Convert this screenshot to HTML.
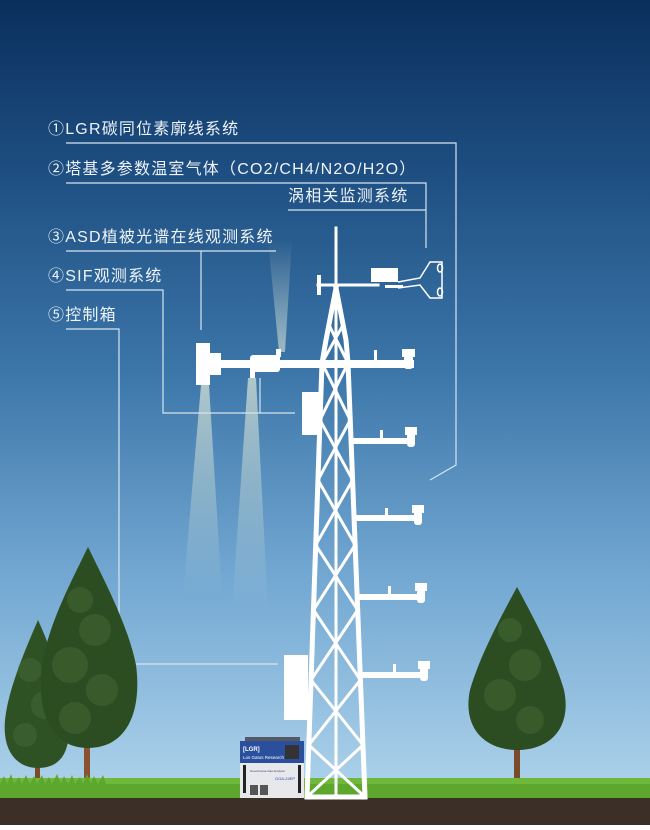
<!DOCTYPE html>
<html><head><meta charset="utf-8"><style>
html,body{margin:0;padding:0;}
body{width:650px;height:825px;overflow:hidden;font-family:"Liberation Sans","Noto Sans CJK SC",sans-serif;}
</style></head><body>
<svg width="650" height="825" viewBox="0 0 650 825" xmlns="http://www.w3.org/2000/svg">
<defs>
<linearGradient id="sky" x1="0" y1="0" x2="0" y2="1">
<stop offset="0" stop-color="#0a2f5c"/>
<stop offset="0.2" stop-color="#1d4d80"/>
<stop offset="0.45" stop-color="#3c76a9"/>
<stop offset="0.7" stop-color="#73a8d2"/>
<stop offset="1" stop-color="#b6d9ee"/>
</linearGradient>
<linearGradient id="beam" x1="0" y1="0" x2="0" y2="1">
<stop offset="0" stop-color="#dfe9d8" stop-opacity="0.7"/>
<stop offset="1" stop-color="#dfe9d8" stop-opacity="0"/>
</linearGradient>
<linearGradient id="beamU" x1="0" y1="1" x2="0" y2="0">
<stop offset="0" stop-color="#dfe9d8" stop-opacity="0.6"/>
<stop offset="1" stop-color="#dfe9d8" stop-opacity="0"/>
</linearGradient>
</defs>
<rect width="650" height="825" fill="url(#sky)"/>

<polygon points="201,385 209,385 222,595 183,595" fill="url(#beam)"/>
<polygon points="248,378 256,378 268,610 232,610" fill="url(#beam)"/>
<polygon points="279,352 285,352 292,240 268,240" fill="url(#beamU)"/>

<g stroke="#d6e4ef" stroke-width="1.2" fill="none">
<polyline points="66,143 456,143 456,465 430,480"/>
<polyline points="66,183 426,183 426,248"/>
<line x1="288" y1="210" x2="426" y2="210"/>
<polyline points="66,251 276,251"/>
<line x1="201" y1="251" x2="201" y2="330"/>
<polyline points="66,290 163,290 163,413 295,413"/>
<line x1="260" y1="378" x2="260" y2="413"/>
<polyline points="66,329 119,329 119,664 278,664"/>
</g>

<g fill="#eef3f8" font-size="16" letter-spacing="1.2">
<text x="48" y="134">①LGR碳同位素廓线系统</text>
<text x="48" y="174">②塔基多参数温室气体（CO2/CH4/N2O/H2O）</text>
<text x="288" y="201">涡相关监测系统</text>
<text x="48" y="242">③ASD植被光谱在线观测系统</text>
<text x="48" y="281">④SIF观测系统</text>
<text x="48" y="320">⑤控制箱</text>
</g>

<g>
<rect x="35" y="720" width="5" height="60" fill="#7a4a2a"/>
<path d="M38,620 C25,650 8,690 5,720 C2,755 20,768 38,768 C58,768 72,755 68,720 C64,690 52,650 38,620Z" fill="#2f5224"/>
<g fill="#44683a" opacity="0.5">
<circle cx="30" cy="670" r="12"/><circle cx="45" cy="705" r="14"/><circle cx="25" cy="735" r="12"/>
</g>
<rect x="84" y="730" width="6" height="68" fill="#8a5230"/>
<path d="M88,547 C72,580 48,625 42,665 C36,710 50,748 88,748 C128,748 142,710 136,665 C128,625 104,580 88,547Z" fill="#2c4d22"/>
<g fill="#4a6e38" opacity="0.45">
<circle cx="80" cy="600" r="13"/><circle cx="95" cy="630" r="16"/><circle cx="70" cy="665" r="18"/><circle cx="102" cy="690" r="16"/><circle cx="75" cy="718" r="16"/>
</g>
<rect x="514" y="735" width="6" height="50" fill="#7a4a2a"/>
<path d="M517,587 C502,615 480,655 470,690 C462,728 485,750 517,750 C550,750 572,728 564,690 C554,655 532,615 517,587Z" fill="#2c4d22"/>
<g fill="#4a6e38" opacity="0.45">
<circle cx="510" cy="630" r="12"/><circle cx="525" cy="665" r="16"/><circle cx="500" cy="695" r="16"/><circle cx="530" cy="720" r="14"/>
</g>
</g>

<rect x="0" y="778" width="650" height="22" fill="#6fb83a"/>
<path d="M0,784 l4,-8 l3,8 l4,-10 l3,10 l5,-7 l3,7 l4,-9 l4,9 l4,-8 l3,8 l5,-9 l3,9 l4,-7 l3,7 l5,-10 l4,10 l3,-8 l4,8 l4,-9 l3,9 l5,-7 l3,7 l4,-10 l4,10 l3,-8 l4,8 l5,-9 l3,9 L650,784 L650,800 L0,800Z" fill="#5ea72f"/>
<rect x="0" y="798" width="650" height="27" fill="#3b2f27"/>

<g stroke="#ffffff" fill="none" stroke-linecap="square" stroke-linejoin="round">
<line x1="336" y1="228" x2="336" y2="797" stroke-width="3"/>
<polyline points="336,288 326,340 322,363 307,797" stroke-width="5"/>
<polyline points="336,288 346,340 348,363 365,797" stroke-width="5"/>
<line x1="307" y1="797" x2="365" y2="797" stroke-width="5"/>
<g stroke-width="3">
<line x1="322" y1="363" x2="350.2" y2="420"/><line x1="348" y1="363" x2="320" y2="420"/>
<line x1="320" y1="420" x2="352.6" y2="480"/><line x1="350.2" y1="420" x2="318" y2="480"/>
<line x1="318" y1="480" x2="355.1" y2="545"/><line x1="352.6" y1="480" x2="315.7" y2="545"/>
<line x1="315.7" y1="545" x2="357.7" y2="610"/><line x1="355.1" y1="545" x2="313.5" y2="610"/>
<line x1="313.5" y1="610" x2="360.4" y2="680"/><line x1="357.7" y1="610" x2="311" y2="680"/>
<line x1="311" y1="680" x2="363" y2="745"/><line x1="360.4" y1="680" x2="308.8" y2="745"/>
<line x1="308.8" y1="745" x2="365" y2="797"/><line x1="363" y1="745" x2="307" y2="797"/>
<line x1="329" y1="325" x2="348" y2="363"/><line x1="343" y1="325" x2="322" y2="363"/>
</g>
<line x1="318" y1="285" x2="378" y2="285" stroke-width="3"/>
<line x1="319" y1="277" x2="319" y2="293" stroke-width="4"/>
</g>
<g fill="#fff" stroke="#fff">
<rect x="371" y="268" width="27" height="14" stroke="none"/>
<polyline points="398,282 420,278 430,262 442,262 442,298 430,298 420,285 398,288" fill="none" stroke-width="1.5"/>
<ellipse cx="440" cy="268" rx="2.5" ry="4" fill="none" stroke-width="1.5"/>
<ellipse cx="440" cy="292" rx="2.5" ry="4" fill="none" stroke-width="1.5"/>
<rect x="385" y="285" width="18" height="3" stroke="none"/>
</g>
<g fill="#fff">
<rect x="196" y="343" width="14" height="42"/>
<rect x="209" y="353" width="12" height="22"/>
<rect x="220" y="360" width="194" height="8"/>
<rect x="250" y="355" width="30" height="17" rx="3"/>
<rect x="250" y="368" width="5" height="10"/>
<rect x="276" y="349" width="5" height="8"/>
<rect x="374" y="350" width="3" height="10"/>
<rect x="402" y="349" width="13" height="8"/>
<rect x="404" y="355" width="9" height="14" rx="3"/>
<rect x="302" y="392" width="18" height="43"/>
<rect x="284" y="655" width="24" height="65"/>
<rect x="352" y="438" width="60" height="6"/>
<rect x="405" y="427" width="12" height="8"/><rect x="407" y="433" width="8" height="14" rx="3"/><rect x="380" y="430" width="3" height="10"/>
<rect x="354" y="515" width="66" height="6"/>
<rect x="412" y="505" width="12" height="8"/><rect x="414" y="511" width="8" height="14" rx="3"/><rect x="385" y="508" width="3" height="10"/>
<rect x="358" y="594" width="66" height="6"/>
<rect x="415" y="583" width="12" height="8"/><rect x="417" y="589" width="8" height="14" rx="3"/><rect x="388" y="586" width="3" height="10"/>
<rect x="362" y="672" width="66" height="6"/>
<rect x="418" y="661" width="12" height="8"/><rect x="420" y="667" width="8" height="14" rx="3"/><rect x="393" y="664" width="3" height="10"/>
</g>

<g>
<rect x="245" y="737" width="55" height="5" fill="#555b66"/>
<rect x="240" y="741" width="64" height="57" fill="#e6e8ec"/>
<rect x="240" y="741" width="64" height="22" fill="#2a4f9c"/>
<text x="243" y="751" font-size="6" fill="#fff" font-weight="bold">[LGR]</text>
<text x="243" y="759" font-size="4.5" fill="#fff">Los Gatos Research</text>
<rect x="285" y="745" width="14" height="14" fill="#333"/>
<rect x="243" y="765" width="3" height="28" fill="#222"/>
<rect x="298" y="765" width="3" height="28" fill="#222"/>
<text x="250" y="772" font-size="3" fill="#446">Greenhouse Gas Analyzer</text>
<text x="275" y="780" font-size="4" fill="#2a4f9c">GGA-24EP</text>
<rect x="250" y="785" width="8" height="10" fill="#555"/>
<rect x="260" y="785" width="8" height="10" fill="#555"/>
</g>
</svg>
</body></html>
